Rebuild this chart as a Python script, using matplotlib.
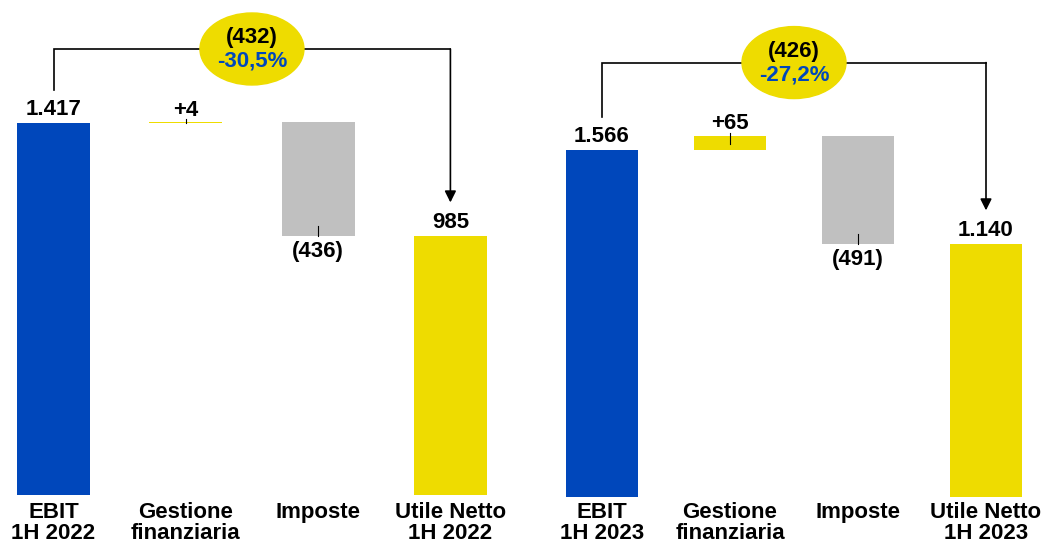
import matplotlib
matplotlib.use('Agg')
import matplotlib.pyplot as plt
from matplotlib.patches import Ellipse

plt.rcParams['font.family'] = ['Liberation Sans', 'DejaVu Sans']
plt.rcParams['font.weight'] = 'bold'

# dati (milioni di euro)
categorie_2022 = ['EBIT\n1H 2022', 'Gestione\nfinanziaria', 'Imposte', 'Utile Netto\n1H 2022']
categorie_2023 = ['EBIT\n1H 2023', 'Gestione\nfinanziaria', 'Imposte', 'Utile Netto\n1H 2023']
ebit = [1417, 1566]
gestione = [4, 65]
imposte = [-436, -491]
utile = [985, 1140]

BLU = '#0047BB'
GIALLO = '#EEDC00'
GRIGIO = '#C0C0C0'

W, H = 1042, 549
fig = plt.figure(figsize=(W / 100, H / 100), dpi=100)


def fmt(v):
    return '{:,}'.format(v).replace(',', '.')


def fmt_delta(v):
    return '(%s)' % fmt(-v) if v < 0 else '+' + fmt(v)


def pannello(x0, passo, base, scala, larg, cat, e, g, t, u):
    ax = fig.add_axes([0, 0, 1, 1])
    ax.set_xlim(-x0 / passo, (W - x0) / passo)
    ax.set_ylim((base - H) / scala, base / scala)
    ax.axis('off')
    px = lambda n: n / scala  # pixel -> unita'

    # barre del waterfall
    bottoms = [0]
    heights = [e]
    tot = e
    picco = e
    for d in (g, t):
        bottoms.append(min(tot, tot + d))
        heights.append(abs(d))
        tot += d
        picco = max(picco, tot)
    bottoms.append(0)
    heights.append(u)
    x = range(4)
    ax.bar(x, heights, bottom=bottoms, width=larg, linewidth=0,
           color=[BLU, GIALLO, GRIGIO, GIALLO])

    # etichette valori
    for i, v in ((0, e), (3, u)):
        ax.annotate(fmt(v), (i, v), xytext=(0, 5.8), textcoords='offset points',
                    ha='center', va='baseline', fontsize=16)
    for i, d in ((1, g), (2, t)):
        bot, top = bottoms[i], bottoms[i] + heights[i]
        if d >= 0:
            ax.annotate(fmt_delta(d), (i, top), xytext=(0, 4.5), textcoords='offset points',
                        ha='center', va='baseline', fontsize=16)
            ax.plot([i, i], [top + px(3), max(bot, top - px(8))], color='black', lw=0.8)
        else:
            ax.annotate(fmt_delta(d), (i, bot), xytext=(0, -3), textcoords='offset points',
                        ha='center', va='top', fontsize=16)
            ax.plot([i, i], [bot, bot + px(10)], color='black', lw=0.8)

    # categorie
    for i, c in enumerate(cat):
        ax.text(i, (base - 502) / scala, c, ha='center', va='top',
                fontsize=16, linespacing=1.02)

    # connettore con freccia
    y_start = e + px(33)
    y_top = picco + px(73)
    y_end = u + px(34)
    ax.plot([0, 0, 3], [y_start, y_top, y_top], color='black', lw=1.2,
            solid_joinstyle='miter')
    ax.annotate('', xy=(3, y_end), xytext=(3, y_top),
                arrowprops=dict(arrowstyle='-|>', color='black', lw=1.2,
                                mutation_scale=17, shrinkA=0, shrinkB=0))

    # ellisse con variazione
    ax.add_patch(Ellipse((1.5, y_top), 104 / passo, px(72), color=GIALLO, zorder=3))
    delta = u - e
    pct = ('%.1f%%' % (delta / e * 100)).replace('.', ',')
    ax.text(1.5, y_top + px(11), fmt_delta(delta), ha='center', va='center',
            fontsize=16, zorder=4)
    ax.text(1.5, y_top - px(12), pct, ha='center', va='center',
            fontsize=16, color=BLU, zorder=4)


pannello(53.5, 132.3, 495, 0.2625, 0.552, categorie_2022,
         ebit[0], gestione[0], imposte[0], utile[0])
pannello(602, 128.0, 497, 0.2216, 0.5625, categorie_2023,
         ebit[1], gestione[1], imposte[1], utile[1])

fig.savefig('out.png', dpi=100)
